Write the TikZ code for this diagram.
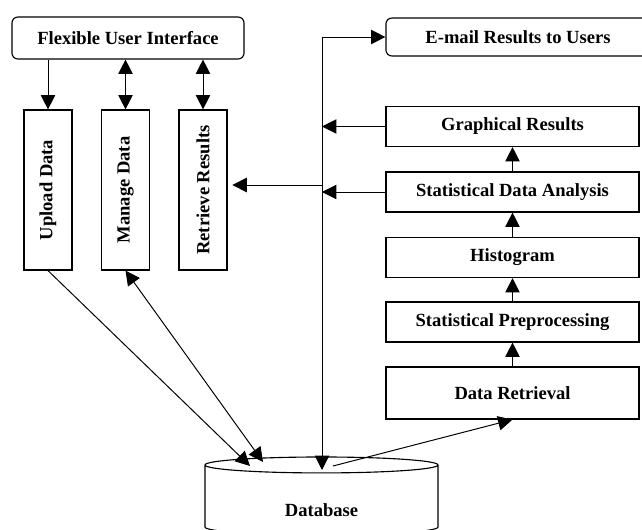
\documentclass[tikz,border=0pt]{standalone}
\usepackage{fontspec}
\setmainfont{Liberation Serif}
\usetikzlibrary{arrows.meta,shapes.geometric}
\begin{document}
\begin{tikzpicture}
[x=0.025cm,y=-0.025cm,
 font=\fontsize{13.2}{15}\selectfont\bfseries,
 >={Triangle[length=0.36cm,width=0.36cm]},
 box/.style={draw,line width=0.8pt,inner sep=0pt},
 tall box/.style={box,minimum width=1.2cm,minimum height=4cm},
 stage box/.style={box,minimum width=6.325cm,minimum height=1cm},
 link/.style={line width=0.7pt,->},
 both/.style={line width=0.7pt,<->}]
\useasboundingbox (0,0) rectangle (642,530);
% user side
\node[box,rounded corners=0.15cm,minimum width=5.8cm,minimum height=1.05cm] (fui) at (128,38) {Flexible User Interface};
\node[tall box] (upload) at (48,190) {\rotatebox{90}{Upload Data}};
\node[tall box] (manage) at (125.5,190) {\rotatebox{90}{Manage Data}};
\node[tall box] (retrieve) at (203,190) {\rotatebox{90}{Retrieve Results}};
% analysis side
\node[box,rounded corners=0.15cm,minimum width=7cm,minimum height=0.95cm] (mail) at (526,37) {\hspace*{-0.4cm}E-mail Results to Users};
\node[stage box] (gr) at (512.5,126.5) {Graphical Results};
\node[stage box] (sda) at (512.5,192) {Statistical Data Analysis};
\node[stage box] (hist) at (512.5,257.5) {Histogram};
\node[stage box] (prep) at (512.5,322) {Statistical Preprocessing};
\node[stage box,minimum height=1.3cm] (dr) at (512.5,393) {Data Retrieval};
% database
\node[cylinder,shape border rotate=90,draw,line width=0.8pt,aspect=1.7,
      minimum width=5.825cm,minimum height=1.95cm,anchor=shape center,
      label={[yshift=-0.22cm]center:Database}] (db) at (321.5,496) {};
\coordinate (bustop) at (322,37);
\coordinate (busret) at (322,185);
\coordinate (dbtop) at (322,470);
\coordinate (dbup) at (250,466);
\coordinate (dbman) at (263,462);
\coordinate (dbout) at (333,466);
% connectors
\draw[link] (bustop) -- (mail.west);
\draw[link] (bustop) -- (dbtop);
\draw[link,shorten >=0.12cm] (busret) -- (busret -| retrieve.east);
\draw[link] (gr.west) -- (gr.west -| bustop);
\draw[link] (sda.west) -- (sda.west -| bustop);
\foreach \a/\b in {dr/prep,prep/hist,hist/sda,sda/gr}
  \draw[link] (\a.north) -- (\b.south);
\draw[link] (upload.north |- fui.south) -- (upload.north);
\draw[both] (manage.north |- fui.south) -- (manage.north);
\draw[both] (retrieve.north |- fui.south) -- (retrieve.north);
\draw[link] (upload.south) -- (dbup);
\draw[both] (manage.south) -- (dbman);
\draw[link] (dbout) -- (dr.south);
\end{tikzpicture}
\end{document}
